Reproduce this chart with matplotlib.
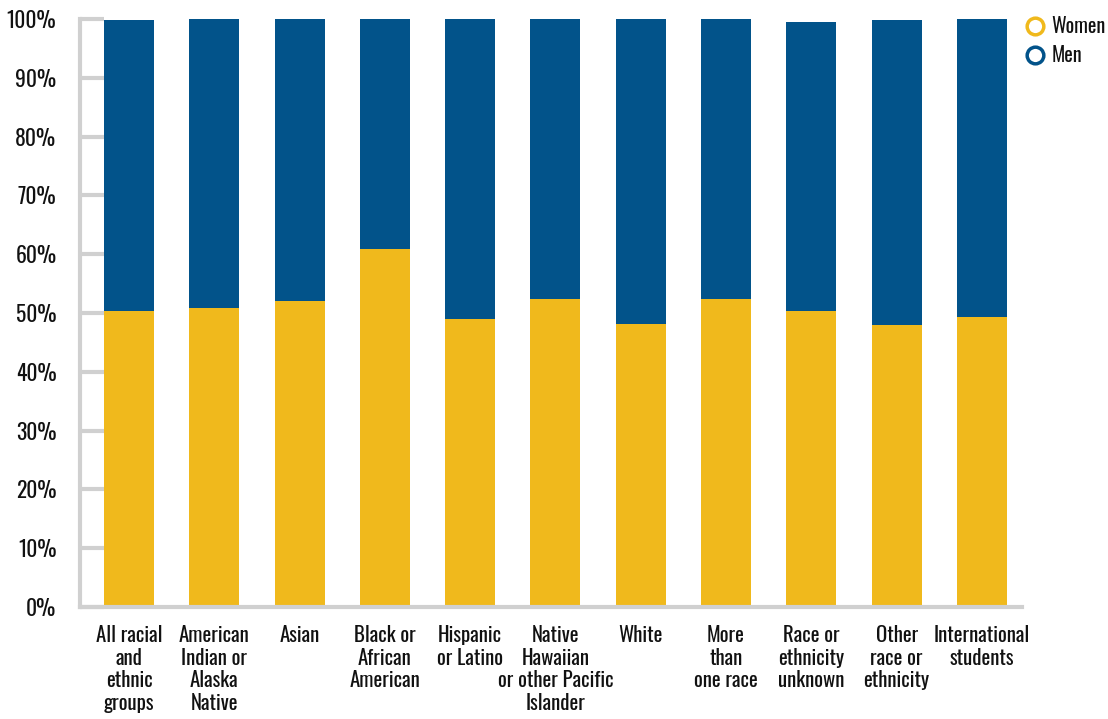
import matplotlib
matplotlib.use("Agg")
import matplotlib.pyplot as plt
from matplotlib import font_manager
from matplotlib.lines import Line2D
from matplotlib.ticker import FuncFormatter
import numpy as np

# condensed face if there is one, otherwise fall back
names = {f.name for f in font_manager.fontManager.ttflist}
family = "DejaVu Sans"
for cand in ["Oswald", "Roboto Condensed", "Liberation Sans Narrow",
             "DejaVu Sans Condensed", "Roboto"]:
    if cand in names:
        family = cand
        break
plt.rcParams["font.family"] = [family, "DejaVu Sans"]

groups = [
    "All racial\nand\nethnic\ngroups",
    "American\nIndian or\nAlaska\nNative",
    "Asian",
    "Black or\nAfrican\nAmerican",
    "Hispanic\nor Latino",
    "Native\nHawaiian\nor other Pacific\nIslander",
    "White",
    "More\nthan\none race",
    "Race or\nethnicity\nunknown",
    "Other\nrace or\nethnicity",
    "International\nstudents",
]
women = [50.4, 50.8, 52.1, 60.8, 49.0, 52.4, 48.2, 52.3, 50.4, 48.0, 49.4]
men = [49.4, 49.2, 47.9, 39.2, 51.0, 47.6, 51.8, 47.7, 49.1, 51.8, 50.6]

gold = "#F0B91C"
navy = "#02538A"
grey = "#D0D0D0"
ink = "#111111"

fig = plt.figure(figsize=(11.08, 7.19), dpi=100)
ax = fig.add_axes([80 / 1108, 1 - 607 / 719, 942 / 1108, 588 / 719])

x = np.arange(len(groups))
ax.bar(x, women, width=0.586, color=gold, label="Women")
ax.bar(x, men, width=0.586, bottom=women, color=navy, label="Men")

ax.set_xlim(-0.575, len(groups) - 0.53)
ax.set_ylim(0, 100)
ax.set_yticks(np.arange(0, 101, 10))
ax.yaxis.set_major_formatter(FuncFormatter(lambda v, p: f"{v:.0f}%"))
ax.set_xticks(x)
ax.set_xticklabels(groups, fontsize=15, linespacing=1.15, va="top")

for s in ["top", "right"]:
    ax.spines[s].set_visible(False)
for s in ["left", "bottom"]:
    ax.spines[s].set_color(grey)
    ax.spines[s].set_linewidth(3)

ax.tick_params(axis="y", direction="in", length=17, width=3, color=grey,
               labelsize=15.5, pad=17, labelcolor=ink)
ax.tick_params(axis="x", length=0, pad=13, labelcolor=ink)

handles = [
    Line2D([], [], marker="o", linestyle="none", markersize=12,
           markerfacecolor="white", markeredgecolor=gold, markeredgewidth=2.5),
    Line2D([], [], marker="o", linestyle="none", markersize=12,
           markerfacecolor="white", markeredgecolor=navy, markeredgewidth=2.5),
]
fig.legend(handles, ["Women", "Men"], loc="upper left",
           bbox_to_anchor=(1015 / 1108, 1 - 6 / 719), frameon=False,
           fontsize=14.5, handlelength=1.0, handletextpad=0.3,
           labelspacing=0.45, borderpad=0, labelcolor=ink)

fig.savefig("out.png", dpi=100)
